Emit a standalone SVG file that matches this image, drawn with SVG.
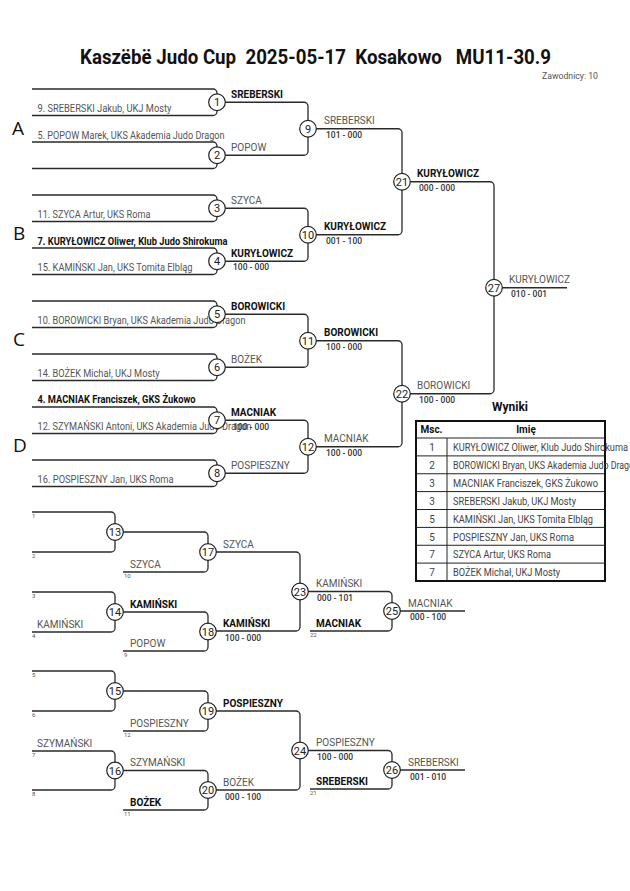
<svg xmlns="http://www.w3.org/2000/svg" width="630" height="891" viewBox="0 0 630 891">
<style>
.ln{fill:none;stroke:#2a2a2a;stroke-width:1.3}
.c{fill:#fff;stroke:#222;stroke-width:1.2}
.cn{font-family:Roboto,sans-serif;font-size:11px;fill:#222;text-anchor:middle}
.nm{font-family:Roboto,sans-serif;font-size:10px;fill:#555}
.nb{font-family:Roboto,sans-serif;font-size:10px;font-weight:bold;fill:#111}
.sc{font-family:Roboto,sans-serif;font-size:8.5px;font-weight:500;fill:#333}
.sm{font-family:Roboto,sans-serif;font-size:6px;fill:#555}
.lt{font-family:"Open Sans",sans-serif;font-size:19px;fill:#111}
.th{font-family:Roboto,sans-serif;font-size:10px;font-weight:bold;fill:#111;text-anchor:middle}
.tn{font-family:Roboto,sans-serif;font-size:10px;fill:#444;text-anchor:middle}
.tt{font-family:Roboto,sans-serif;font-size:10px;fill:#444}
</style>
<rect width="630" height="891" fill="#fff"/>
<text x="80" y="64" textLength="471" lengthAdjust="spacingAndGlyphs" style="white-space:pre;font-family:Roboto,sans-serif;font-size:20px;font-weight:bold;fill:#111">Kaszëbë Judo Cup  2025-05-17  Kosakowo   MU11-30.9</text>
<text x="542" y="79" style="font-family:Roboto,sans-serif;font-size:9px;fill:#555" textLength="56" lengthAdjust="spacingAndGlyphs">Zawodnicy: 10</text>

<text class="lt" x="12" y="135">A</text>
<text class="lt" x="13" y="240">B</text>
<text class="lt" x="13" y="346">C</text>
<text class="lt" x="13" y="452">D</text>

<g id="connectors">
<path class="ln" d="M32,89H213a4,4 0 0 1 4,4V111.5a4,4 0 0 1 -4,4H32"/>
<path class="ln" d="M32,142H213a4,4 0 0 1 4,4V164.5a4,4 0 0 1 -4,4H32"/>
<path class="ln" d="M32,195H213a4,4 0 0 1 4,4V217.5a4,4 0 0 1 -4,4H32"/>
<path class="ln" d="M32,248H213a4,4 0 0 1 4,4V270.5a4,4 0 0 1 -4,4H32"/>
<path class="ln" d="M32,301H213a4,4 0 0 1 4,4V323.5a4,4 0 0 1 -4,4H32"/>
<path class="ln" d="M32,354H213a4,4 0 0 1 4,4V376.5a4,4 0 0 1 -4,4H32"/>
<path class="ln" d="M32,407H213a4,4 0 0 1 4,4V429.5a4,4 0 0 1 -4,4H32"/>
<path class="ln" d="M32,460H213a4,4 0 0 1 4,4V482.5a4,4 0 0 1 -4,4H32"/>
<path class="ln" d="M217,102.25H304a4,4 0 0 1 4,4V151.25a4,4 0 0 1 -4,4H217"/>
<path class="ln" d="M217,208.25H304a4,4 0 0 1 4,4V257.25a4,4 0 0 1 -4,4H217"/>
<path class="ln" d="M217,314.25H304a4,4 0 0 1 4,4V363.25a4,4 0 0 1 -4,4H217"/>
<path class="ln" d="M217,420.25H304a4,4 0 0 1 4,4V469.25a4,4 0 0 1 -4,4H217"/>
<path class="ln" d="M308,128.75H398a4,4 0 0 1 4,4V230.75a4,4 0 0 1 -4,4H308"/>
<path class="ln" d="M308,340.75H398a4,4 0 0 1 4,4V442.75a4,4 0 0 1 -4,4H308"/>
<path class="ln" d="M402,181.75H490a4,4 0 0 1 4,4V389.75a4,4 0 0 1 -4,4H402"/>
<path class="ln" d="M494,287.75H567"/>

<path class="ln" d="M32,512H111a4,4 0 0 1 4,4V548a4,4 0 0 1 -4,4H32"/>
<path class="ln" d="M115,532H204a4,4 0 0 1 4,4V568a4,4 0 0 1 -4,4H123"/>
<path class="ln" d="M32,592H111a4,4 0 0 1 4,4V628a4,4 0 0 1 -4,4H32"/>
<path class="ln" d="M115,612H204a4,4 0 0 1 4,4V647a4,4 0 0 1 -4,4H123"/>
<path class="ln" d="M208,552H296a4,4 0 0 1 4,4V627a4,4 0 0 1 -4,4H208"/>
<path class="ln" d="M300,591.5H388a4,4 0 0 1 4,4V627a4,4 0 0 1 -4,4H310"/>
<path class="ln" d="M392,611H465"/>
<path class="ln" d="M32,671H111a4,4 0 0 1 4,4V707a4,4 0 0 1 -4,4H32"/>
<path class="ln" d="M115,691H204a4,4 0 0 1 4,4V727a4,4 0 0 1 -4,4H123"/>
<path class="ln" d="M32,751H111a4,4 0 0 1 4,4V786a4,4 0 0 1 -4,4H32"/>
<path class="ln" d="M115,770.5H204a4,4 0 0 1 4,4V806a4,4 0 0 1 -4,4H123"/>
<path class="ln" d="M208,711H296a4,4 0 0 1 4,4V786a4,4 0 0 1 -4,4H208"/>
<path class="ln" d="M300,750.5H388a4,4 0 0 1 4,4V785a4,4 0 0 1 -4,4H310"/>
<path class="ln" d="M392,770H465"/>
</g>

<g id="names">
<text class="nm" x="37.5" y="112" textLength="134" lengthAdjust="spacingAndGlyphs">9. SREBERSKI Jakub, UKJ Mosty</text>
<text class="nm" x="37.5" y="138.5" textLength="187" lengthAdjust="spacingAndGlyphs">5. POPOW Marek, UKS Akademia Judo Dragon</text>
<text class="nm" x="37.5" y="218" textLength="113" lengthAdjust="spacingAndGlyphs">11. SZYCA Artur, UKS Roma</text>
<text class="nb" x="37.5" y="244.5" textLength="190" lengthAdjust="spacingAndGlyphs">7. KURYŁOWICZ Oliwer, Klub Judo Shirokuma</text>
<text class="nm" x="37.5" y="271" textLength="155" lengthAdjust="spacingAndGlyphs">15. KAMIŃSKI Jan, UKS Tomita Elbląg</text>
<text class="nm" x="37.5" y="324" textLength="208" lengthAdjust="spacingAndGlyphs">10. BOROWICKI Bryan, UKS Akademia Judo Dragon</text>
<text class="nm" x="37.5" y="377" textLength="122" lengthAdjust="spacingAndGlyphs">14. BOŻEK Michał, UKJ Mosty</text>
<text class="nb" x="37.5" y="403" textLength="158" lengthAdjust="spacingAndGlyphs">4. MACNIAK Franciszek, GKS Żukowo</text>
<text class="nm" x="37.5" y="430" textLength="214" lengthAdjust="spacingAndGlyphs">12. SZYMAŃSKI Antoni, UKS Akademia Judo Dragon</text>
<text class="nm" x="37.5" y="483" textLength="136" lengthAdjust="spacingAndGlyphs">16. POSPIESZNY Jan, UKS Roma</text>
</g>

<g id="m1"><text class="nb" x="231" y="97.5">SREBERSKI</text><circle class="c" cx="217" cy="102.25" r="8.3"/><text class="cn" x="217" y="106.2">1</text></g>
<g id="m2"><text class="nm" x="231" y="150.7">POPOW</text><circle class="c" cx="217" cy="155.25" r="8.3"/><text class="cn" x="217" y="159.2">2</text></g>
<g id="m3"><text class="nm" x="231" y="203.7">SZYCA</text><circle class="c" cx="217" cy="208.25" r="8.3"/><text class="cn" x="217" y="212.2">3</text></g>
<g id="m4"><text class="nb" x="231" y="256.7">KURYŁOWICZ</text><text class="sc" x="233" y="270">100 - 000</text><circle class="c" cx="217" cy="261.25" r="8.3"/><text class="cn" x="217" y="265.2">4</text></g>
<g id="m5"><text class="nb" x="231" y="309.7">BOROWICKI</text><circle class="c" cx="217" cy="314.25" r="8.3"/><text class="cn" x="217" y="318.2">5</text></g>
<g id="m6"><text class="nm" x="231" y="362.7">BOŻEK</text><circle class="c" cx="217" cy="367.25" r="8.3"/><text class="cn" x="217" y="371.2">6</text></g>
<g id="m7"><text class="nb" x="231" y="415.7">MACNIAK</text><text class="sc" x="233" y="429.5">100 - 000</text><circle class="c" cx="217" cy="420.25" r="8.3"/><text class="cn" x="217" y="424.2">7</text></g>
<g id="m8"><text class="nm" x="231" y="468.7">POSPIESZNY</text><circle class="c" cx="217" cy="473.25" r="8.3"/><text class="cn" x="217" y="477.2">8</text></g>

<g id="m9"><text class="nm" x="324" y="124.2">SREBERSKI</text><text class="sc" x="326" y="138">101 - 000</text><circle class="c" cx="308" cy="128.75" r="8.3"/><text class="cn" x="308" y="132.7">9</text></g>
<g id="m10"><text class="nb" x="324" y="230.2">KURYŁOWICZ</text><text class="sc" x="326" y="244">001 - 100</text><circle class="c" cx="308" cy="234.75" r="8.3"/><text class="cn" x="308" y="238.7">10</text></g>
<g id="m11"><text class="nb" x="324" y="336.2">BOROWICKI</text><text class="sc" x="326" y="350">100 - 000</text><circle class="c" cx="308" cy="340.75" r="8.3"/><text class="cn" x="308" y="344.7">11</text></g>
<g id="m12"><text class="nm" x="324" y="442.2">MACNIAK</text><text class="sc" x="326" y="456">100 - 000</text><circle class="c" cx="308" cy="446.75" r="8.3"/><text class="cn" x="308" y="450.7">12</text></g>
<g id="m21"><text class="nb" x="417" y="177.2">KURYŁOWICZ</text><text class="sc" x="419" y="191">000 - 000</text><circle class="c" cx="402" cy="181.75" r="8.3"/><text class="cn" x="402" y="185.7">21</text></g>
<g id="m22"><text class="nm" x="417" y="389.2">BOROWICKI</text><text class="sc" x="419" y="403">100 - 000</text><circle class="c" cx="402" cy="393.75" r="8.3"/><text class="cn" x="402" y="397.7">22</text></g>
<g id="m27"><text class="nm" x="509" y="283.2">KURYŁOWICZ</text><text class="sc" x="511" y="297">010 - 001</text><circle class="c" cx="494" cy="287.75" r="8.3"/><text class="cn" x="494" y="291.7">27</text></g>

<g id="seeds">
<text class="sm" x="32" y="518">1</text>
<text class="sm" x="32" y="558">2</text>
<text class="sm" x="124" y="578">10</text>
<text class="sm" x="32" y="598">3</text>
<text class="sm" x="32" y="638">4</text>
<text class="sm" x="124" y="657">9</text>
<text class="sm" x="310" y="637">22</text>
<text class="sm" x="32" y="677">5</text>
<text class="sm" x="32" y="717">6</text>
<text class="sm" x="124" y="737">12</text>
<text class="sm" x="32" y="757">7</text>
<text class="sm" x="32" y="796">8</text>
<text class="sm" x="124" y="816">11</text>
<text class="sm" x="310" y="795">21</text>
</g>

<g id="rep-labels">
<text class="nm" x="130" y="568">SZYCA</text>
<text class="nm" x="37" y="628">KAMIŃSKI</text>
<text class="nb" x="130" y="607.5">KAMIŃSKI</text>
<text class="nm" x="130" y="647">POPOW</text>
<text class="nm" x="130" y="727">POSPIESZNY</text>
<text class="nm" x="37" y="747">SZYMAŃSKI</text>
<text class="nm" x="130" y="766">SZYMAŃSKI</text>
<text class="nb" x="130" y="806">BOŻEK</text>
<text class="nb" x="316" y="627">MACNIAK</text>
<text class="nb" x="316" y="785">SREBERSKI</text>
</g>

<g id="m13"><circle class="c" cx="115" cy="532" r="8.3"/><text class="cn" x="115" y="536">13</text></g>
<g id="m14"><circle class="c" cx="115" cy="612" r="8.3"/><text class="cn" x="115" y="616">14</text></g>
<g id="m15"><circle class="c" cx="115" cy="691" r="8.3"/><text class="cn" x="115" y="695">15</text></g>
<g id="m16"><circle class="c" cx="115" cy="770.5" r="8.3"/><text class="cn" x="115" y="774.5">16</text></g>
<g id="m17"><text class="nm" x="223" y="547.5">SZYCA</text><circle class="c" cx="208" cy="552" r="8.3"/><text class="cn" x="208" y="556">17</text></g>
<g id="m18"><text class="nb" x="223" y="627">KAMIŃSKI</text><text class="sc" x="225" y="640.5">100 - 000</text><circle class="c" cx="208" cy="631.5" r="8.3"/><text class="cn" x="208" y="635.5">18</text></g>
<g id="m19"><text class="nb" x="223" y="706.5">POSPIESZNY</text><circle class="c" cx="208" cy="711" r="8.3"/><text class="cn" x="208" y="715">19</text></g>
<g id="m20"><text class="nm" x="223" y="785.5">BOŻEK</text><text class="sc" x="225" y="799.5">000 - 100</text><circle class="c" cx="208" cy="790" r="8.3"/><text class="cn" x="208" y="794">20</text></g>
<g id="m23"><text class="nm" x="316" y="587">KAMIŃSKI</text><text class="sc" x="317" y="601">000 - 101</text><circle class="c" cx="300" cy="591.5" r="8.3"/><text class="cn" x="300" y="595.5">23</text></g>
<g id="m24"><text class="nm" x="316" y="746">POSPIESZNY</text><text class="sc" x="317" y="760">100 - 000</text><circle class="c" cx="300" cy="750.5" r="8.3"/><text class="cn" x="300" y="754.5">24</text></g>
<g id="m25"><text class="nm" x="408" y="606.5">MACNIAK</text><text class="sc" x="410" y="620">000 - 100</text><circle class="c" cx="392" cy="611" r="8.3"/><text class="cn" x="392" y="615">25</text></g>
<g id="m26"><text class="nm" x="408" y="765.5">SREBERSKI</text><text class="sc" x="410" y="779.5">001 - 010</text><circle class="c" cx="392" cy="770" r="8.3"/><text class="cn" x="392" y="774">26</text></g>

<g id="results">
<text x="510" y="411" style="font-family:Roboto,sans-serif;font-size:12px;font-weight:bold;fill:#111;text-anchor:middle">Wyniki</text>
<rect x="416" y="421" width="189" height="160" fill="#fff" stroke="#111" stroke-width="2"/>
<g stroke="#222" stroke-width="1">
<line x1="416" y1="438" x2="605" y2="438"/>
<line x1="447" y1="438" x2="447" y2="581"/>
<line x1="416" y1="455.9" x2="605" y2="455.9"/>
<line x1="416" y1="473.75" x2="605" y2="473.75"/>
<line x1="416" y1="491.6" x2="605" y2="491.6"/>
<line x1="416" y1="509.5" x2="605" y2="509.5"/>
<line x1="416" y1="527.4" x2="605" y2="527.4"/>
<line x1="416" y1="545.25" x2="605" y2="545.25"/>
<line x1="416" y1="563.1" x2="605" y2="563.1"/>
</g>
<text class="th" x="431.5" y="433">Msc.</text>
<text class="th" x="526" y="433">Imię</text>
<text class="tn" x="432" y="451">1</text>
<text class="tn" x="432" y="469">2</text>
<text class="tn" x="432" y="487">3</text>
<text class="tn" x="432" y="504.5">3</text>
<text class="tn" x="432" y="522.5">5</text>
<text class="tn" x="432" y="540.5">5</text>
<text class="tn" x="432" y="558">7</text>
<text class="tn" x="432" y="576">7</text>
<text class="tt" x="453" y="451" textLength="175" lengthAdjust="spacingAndGlyphs">KURYŁOWICZ Oliwer, Klub Judo Shirokuma</text>
<text class="tt" x="453" y="469" textLength="186" lengthAdjust="spacingAndGlyphs">BOROWICKI Bryan, UKS Akademia Judo Dragon</text>
<text class="tt" x="453" y="487" textLength="145" lengthAdjust="spacingAndGlyphs">MACNIAK Franciszek, GKS Żukowo</text>
<text class="tt" x="453" y="504.5" textLength="123" lengthAdjust="spacingAndGlyphs">SREBERSKI Jakub, UKJ Mosty</text>
<text class="tt" x="453" y="522.5" textLength="140" lengthAdjust="spacingAndGlyphs">KAMIŃSKI Jan, UKS Tomita Elbląg</text>
<text class="tt" x="453" y="540.5" textLength="121" lengthAdjust="spacingAndGlyphs">POSPIESZNY Jan, UKS Roma</text>
<text class="tt" x="453" y="558" textLength="98" lengthAdjust="spacingAndGlyphs">SZYCA Artur, UKS Roma</text>
<text class="tt" x="453" y="576" textLength="107" lengthAdjust="spacingAndGlyphs">BOŻEK Michał, UKJ Mosty</text>
</g>
</svg>
